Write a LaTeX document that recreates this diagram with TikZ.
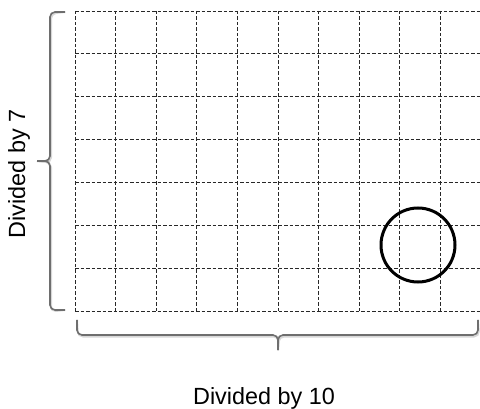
\documentclass[tikz,border=0pt]{standalone}
\usepackage{fontspec}
\setmainfont{Liberation Sans}
\usetikzlibrary{calc}
\definecolor{inkgrid}{RGB}{40,40,40}
\definecolor{bracegray}{RGB}{110,110,110}
\definecolor{braceshade}{RGB}{215,215,215}

\begin{document}
\begin{tikzpicture}[x=1pt,y=-1pt,
    gridline/.style={inkgrid,line width=0.8pt,dash pattern=on 3.5pt off 2pt},
    bracepath/.style={bracegray,line width=1.6pt,rounded corners=5pt},
    braceshadow/.style={braceshade,line width=2pt,rounded corners=5pt,shift={(1,1.5)}},
    caption/.style={font=\fontsize{23.4}{26}\selectfont,anchor=base,inner sep=0pt}]
        \clip (0,0) rectangle (480,409);
        % grid, 10 x 7
        \foreach \i in {0,...,10}{
          \draw[gridline] ({75+40.6*\i},11) -- ({75+40.6*\i},311);
        }
        \foreach \j in {0,...,7}{
          \draw[gridline] (75,{11+300/7*\j}) -- (481,{11+300/7*\j});
        }
        % left brace
        \coordinate (ltop) at (65,12);
        \coordinate (lbot) at (65,310);
        \coordinate (ltip) at (37,161);
        \foreach \s in {braceshadow,bracepath}{
          \draw[\s] (ltop) -- (50,12) -- (50,161) -- (ltip);
          \draw[\s] (ltip) -- (50,161) -- (50,310) -- (lbot);
        }
        % bottom brace
        \coordinate (bleft) at (77,320);
        \coordinate (bright) at (478,320);
        \coordinate (btip) at (278,350);
        \foreach \s in {braceshadow,bracepath}{
          \draw[\s] (bleft) -- (77,335) -- (278,335) -- (btip);
          \draw[\s] (btip) -- (278,335) -- (478,335) -- (bright);
        }
        % marked cell
        \node[draw=black,line width=3pt,circle,minimum size=74pt,inner sep=0pt] (mark) at (418,245) {};
        \node[caption,rotate=90] (rowlabel) at (25,174) {Divided by 7};
        \node[caption] (collabel) at (264,404) {Divided by 10};
      \end{tikzpicture}
\end{document}
